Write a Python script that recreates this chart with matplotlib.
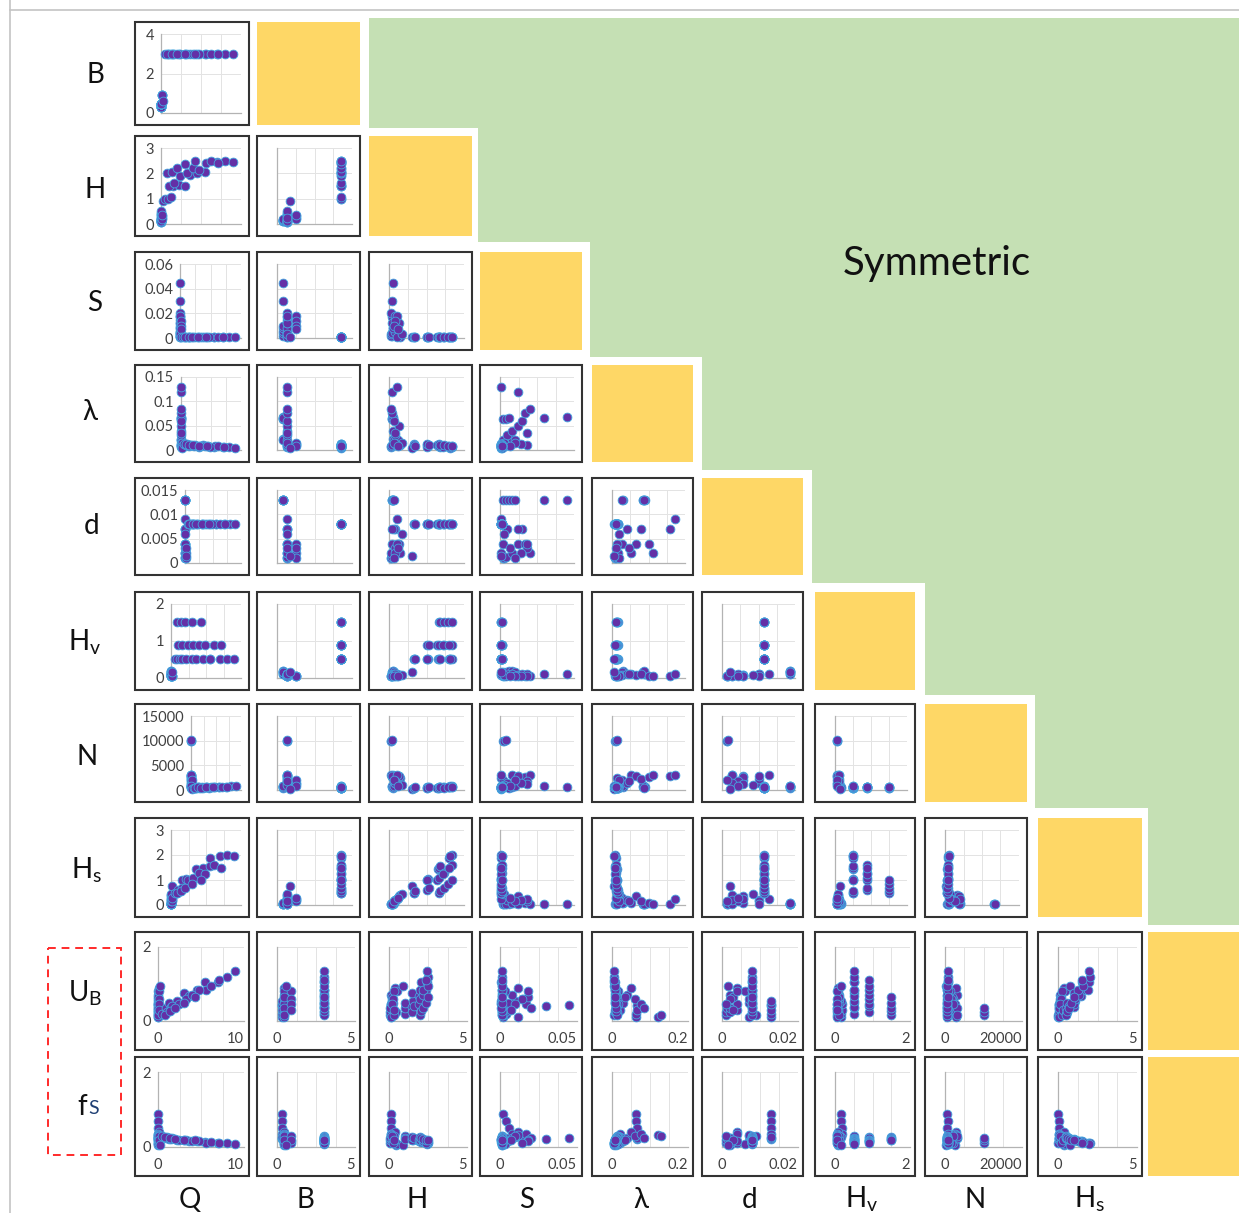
import matplotlib

matplotlib.use("Agg")
import matplotlib.pyplot as plt
from matplotlib.patches import Polygon, Rectangle

plt.rcParams["font.family"] = ["Lato", "DejaVu Sans"]
plt.rcParams["mathtext.fontset"] = "custom"
plt.rcParams["mathtext.rm"] = "Lato"
plt.rcParams["mathtext.it"] = "Lato:italic"

W, H_PX = 1239, 1213

# ── observations: lab runs first, then the wide-channel runs (B = 3) ──
Q = [0.02, 0.03, 0.01, 0.015, 0.02, 0.025, 0.03,
     0.01, 0.012, 0.015,
     0.05, 0.04, 0.03, 0.02, 0.06, 0.03, 0.02, 0.01, 0.015, 0.04, 0.05, 0.025,
     0.08, 0.10, 0.12, 0.09,
     0.20,
     0.5, 0.9, 1.3, 1.5, 2.2, 3.0, 3.6, 4.5, 5.5, 5.6, 7.0, 8.0, 9.0,
     1.0, 1.6, 2.4, 3.2, 4.0, 4.8, 6.2, 7.1,
     0.8, 1.4, 2.0, 3.0, 4.3]
B = [0.30, 0.30, 0.30, 0.30, 0.30, 0.30, 0.30,
     0.45, 0.45, 0.45,
     0.45, 0.45, 0.45, 0.45, 0.45, 0.45, 0.45, 0.45, 0.45, 0.45, 0.45, 0.45,
     0.90, 0.90, 0.90, 0.90,
     0.60,
     3.0, 3.0, 3.0, 3.0, 3.0, 3.0, 3.0, 3.0, 3.0, 3.0, 3.0, 3.0, 3.0,
     3.0, 3.0, 3.0, 3.0, 3.0, 3.0, 3.0, 3.0,
     3.0, 3.0, 3.0, 3.0, 3.0]
H = [0.12, 0.14, 0.10, 0.12, 0.14, 0.16, 0.18,
     0.06, 0.08, 0.10,
     0.45, 0.35, 0.25, 0.15, 0.40, 0.20, 0.12, 0.08, 0.10, 0.30, 0.50, 0.22,
     0.30, 0.25, 0.20, 0.35,
     0.90,
     1.0, 1.0, 1.05, 1.5, 1.55, 1.5, 1.95, 2.0, 2.05, 2.4, 2.45, 2.5, 2.45,
     1.5, 1.6, 1.9, 2.0, 2.2, 2.15, 2.5, 2.4,
     2.0, 2.05, 2.2, 2.35, 2.5]
S = [0.030, 0.045, 0.002, 0.004, 0.006, 0.008, 0.010,
     0.002, 0.003, 0.004,
     0.001, 0.002, 0.005, 0.008, 0.012, 0.015, 0.017, 0.020, 0.012, 0.001, 0.003, 0.018,
     0.018, 0.014, 0.010, 0.007,
     0.001,
     0.0010, 0.0012, 0.0008, 0.0010, 0.0009, 0.0011, 0.0010, 0.0012, 0.0009, 0.0010, 0.0011, 0.0010, 0.0012,
     0.0010, 0.0011, 0.0009, 0.0010, 0.0011, 0.0010, 0.0012, 0.0010,
     0.0010, 0.0011, 0.0009, 0.0010, 0.0011]
lam = [0.066, 0.067, 0.064, 0.064, 0.065, 0.022, 0.020,
       0.006, 0.008, 0.010,
       0.010, 0.020, 0.030, 0.040, 0.050, 0.060, 0.075, 0.085, 0.120, 0.130, 0.015, 0.035,
       0.010, 0.012, 0.015, 0.008,
       0.005,
       0.012, 0.010, 0.008, 0.011, 0.009, 0.007, 0.010, 0.008, 0.006, 0.009, 0.007, 0.006, 0.005,
       0.012, 0.010, 0.010, 0.008, 0.009, 0.007, 0.008, 0.006,
       0.013, 0.011, 0.010, 0.009, 0.008]
d = [0.013, 0.013, 0.013, 0.013, 0.013, 0.013, 0.013,
     0.001, 0.001, 0.0012,
     0.002, 0.004, 0.007, 0.002, 0.004, 0.007, 0.004, 0.002, 0.007, 0.009, 0.006, 0.003,
     0.004, 0.002, 0.001, 0.003,
     0.0015,
     0.008, 0.008, 0.008, 0.008, 0.008, 0.008, 0.008, 0.008, 0.008, 0.008, 0.008, 0.008, 0.008,
     0.008, 0.008, 0.008, 0.008, 0.008, 0.008, 0.008, 0.008,
     0.008, 0.008, 0.008, 0.008, 0.008]
Hv = [0.12, 0.12, 0.15, 0.15, 0.18, 0.18, 0.15,
      0.05, 0.05, 0.05,
      0.08, 0.08, 0.10, 0.10, 0.08, 0.10, 0.06, 0.05, 0.05, 0.10, 0.08, 0.10,
      0.05, 0.05, 0.05, 0.06,
      0.15,
      0.5, 0.5, 0.5, 0.5, 0.5, 0.5, 0.5, 0.5, 0.5, 0.5, 0.5, 0.5, 0.5,
      0.9, 0.9, 0.9, 0.9, 0.9, 0.9, 0.9, 0.9,
      1.5, 1.5, 1.5, 1.5, 1.5]
N = [800, 700, 600, 900, 500, 700, 800,
     10000, 10000, 10200,
     2500, 2000, 1500, 3000, 2800, 2200, 2600, 3000, 2800, 3000, 1000, 1800,
     1200, 1500, 2000, 800,
     300,
     400, 500, 600, 450, 550, 650, 500, 600, 700, 550, 650, 750, 850,
     450, 550, 500, 600, 550, 650, 600, 700,
     450, 550, 500, 600, 650]
Hs = [0.04, 0.05, 0.03, 0.05, 0.06, 0.08, 0.10,
      0.03, 0.04, 0.05,
      0.40, 0.30, 0.20, 0.10, 0.35, 0.15, 0.08, 0.05, 0.05, 0.25, 0.45, 0.18,
      0.25, 0.20, 0.15, 0.30,
      0.75,
      0.5, 0.5, 0.55, 1.0, 1.05, 1.0, 1.45, 1.5, 1.55, 1.9, 1.95, 2.0, 1.95,
      0.6, 0.7, 1.0, 1.1, 1.3, 1.25, 1.6, 1.5,
      0.5, 0.55, 0.7, 0.85, 1.0]
UB = [0.40, 0.42, 0.10, 0.20, 0.30, 0.45, 0.55,
      0.15, 0.25, 0.35,
      0.25, 0.30, 0.50, 0.70, 0.90, 0.60, 0.45, 0.35, 0.12, 0.15, 0.80, 0.65,
      0.80, 0.60, 0.45, 0.30,
      0.95,
      0.20, 0.35, 0.50, 0.38, 0.55, 0.75, 0.68, 0.85, 1.05, 0.85, 1.05, 1.20, 1.35,
      0.25, 0.40, 0.45, 0.60, 0.70, 0.85, 0.95, 1.10,
      0.15, 0.27, 0.35, 0.48, 0.65]
fs = [0.22, 0.24, 0.88, 0.70, 0.52, 0.35, 0.28,
      0.12, 0.18, 0.24,
      0.05, 0.10, 0.15, 0.25, 0.40, 0.30, 0.35, 0.25, 0.33, 0.30, 0.08, 0.20,
      0.15, 0.10, 0.30, 0.20,
      0.05,
      0.30, 0.25, 0.22, 0.22, 0.20, 0.18, 0.16, 0.15, 0.14, 0.12, 0.11, 0.10, 0.09,
      0.28, 0.25, 0.20, 0.18, 0.16, 0.15, 0.13, 0.12,
      0.27, 0.25, 0.22, 0.20, 0.18]

data = {"Q": Q, "B": B, "H": H, "S": S, "lam": lam, "d": d, "Hv": Hv,
        "N": N, "Hs": Hs, "UB": UB, "fs": fs}

row_vars = ["B", "H", "S", "lam", "d", "Hv", "N", "Hs", "UB", "fs"]
col_vars = ["Q", "B", "H", "S", "lam", "d", "Hv", "N", "Hs"]
labels = {"Q": "Q", "B": "B", "H": "H", "S": "S", "lam": "λ", "d": "d",
          "Hv": r"H$_\mathrm{v}$", "N": "N", "Hs": r"H$_\mathrm{s}$",
          "UB": r"U$_\mathrm{B}$", "fs": "f"}

y_ticks = {"B": [0, 2, 4], "H": [0, 1, 2, 3], "S": [0, 0.02, 0.04, 0.06],
           "lam": [0, 0.05, 0.1, 0.15], "d": [0, 0.005, 0.01, 0.015],
           "Hv": [0, 1, 2], "N": [0, 5000, 10000, 15000], "Hs": [0, 1, 2, 3],
           "UB": [0, 2], "fs": [0, 2]}
x_upper = {"Q": 10, "B": 3.5, "H": 3, "S": 0.05, "lam": 0.15, "d": 0.014,
           "Hv": 2, "N": 15000, "Hs": 3}
x_bottom = {"Q": 10, "B": 5, "H": 5, "S": 0.05, "lam": 0.2, "d": 0.02,
            "Hv": 2, "N": 20000, "Hs": 5}

# panel boxes in pixels
cols_x = [(135, 249), (257, 360), (369, 472), (480, 582), (592, 693),
          (702, 803), (815, 915), (925, 1027), (1038, 1142)]
rows_y = [(22, 125), (136, 236), (252, 350), (365, 462), (478, 575),
          (592, 690), (704, 802), (818, 917), (932, 1050), (1057, 1176)]
q_left = [26, 26, 45, 46, 50, 36, 56, 36, 23, 23]

GREEN = "#c5e0b4"
YELLOW = "#fed766"
DOT = "#6430a6"
DOT_EDGE = "#43a6e0"
TICK = "#404040"

fig = plt.figure(figsize=(W / 100, H_PX / 100), dpi=100)
bg = fig.add_axes([0, 0, 1, 1])
bg.set_xlim(0, W)
bg.set_ylim(H_PX, 0)
bg.axis("off")


def px_axes(x0, y0, x1, y1):
    return fig.add_axes([x0 / W, 1 - y1 / H_PX, (x1 - x0) / W, (y1 - y0) / H_PX])


# page frame
bg.plot([10, 10], [0, H_PX], color="#c4c4c4", lw=1.2)
bg.plot([10, W], [10, 10], color="#c4c4c4", lw=1.2)

# upper triangle: one staircase block
stairs = [(369, 18), (W, 18), (W, 925), (1148, 925), (1148, 808), (1035, 808),
          (1035, 695), (925, 695), (925, 583), (812, 583), (812, 470),
          (702, 470), (702, 357), (590, 357), (590, 242), (478, 242),
          (478, 128), (369, 128)]
bg.add_patch(Polygon(stairs, closed=True, fc=GREEN, ec="none", zorder=0))
bg.text(937, 263, "Symmetric", fontsize=29, ha="center", va="center", color="#111111")

# diagonal blocks
for i in range(len(row_vars)):
    y0, y1 = rows_y[i]
    x0, x1 = cols_x[i + 1] if i < 8 else (1148, W + 5)
    bg.add_patch(Rectangle((x0, y0), x1 - x0, y1 - y0, fc=YELLOW, ec="none", zorder=1))

# row and column names
row_lab_xy = [(95, 75), (95, 190), (95, 303), (90, 412), (92, 526), (85, 642),
              (87, 757), (87, 870), (85, 993), (82, 1107)]
for rv, (tx, ty) in zip(row_vars, row_lab_xy):
    bg.text(tx, ty, labels[rv], fontsize=20, ha="center", va="center", color="#111111")
bg.text(88, 1114, "S", fontsize=14, ha="left", va="baseline", color="#1f3f73")

col_lab_x = [190, 305, 417, 527, 641, 750, 862, 975, 1090]
for cv, tx in zip(col_vars, col_lab_x):
    bg.text(tx, 1208, labels[cv], fontsize=20, ha="center", va="baseline", color="#111111")

bg.add_patch(Rectangle((48, 948), 73, 207, fill=False, ec="#ff2a2a", lw=1.4,
                       ls=(0, (4, 3)), zorder=3))

# scatter panels
for i, rv in enumerate(row_vars):
    bottom_row = i >= 8
    ncols = 9 if bottom_row else i + 1
    by0, by1 = rows_y[i]
    for j in range(ncols):
        cv = col_vars[j]
        bx0, bx1 = cols_x[j]
        bg.add_patch(Rectangle((bx0, by0), bx1 - bx0, by1 - by0, fc="white",
                               ec="#333333", lw=1.5, zorder=2))
        left = bx0 + (q_left[i] if j == 0 else 20)
        right = bx1 - (5 if bottom_row else 8)
        top = by0 + (15 if bottom_row else 12)
        bot = by1 - (29 if bottom_row else 12)
        ax = px_axes(left, top, right, bot)
        ax.patch.set_alpha(0)

        xmax = x_bottom[cv] if bottom_row else x_upper[cv]
        yt = y_ticks[rv]
        ax.set_xlim(0, xmax)
        ax.set_ylim(0, yt[-1])
        for k in range(1, 5):
            ax.axvline(xmax * k / 4, color="#e3e3e3", lw=0.7, zorder=0)
        for v in yt[1:]:
            ax.axhline(v, color="#e3e3e3", lw=0.7, zorder=0)

        ax.scatter(data[cv], data[rv], s=40, c=DOT, edgecolors=DOT_EDGE,
                   linewidths=0.6, clip_on=False, zorder=3)

        for side in ("top", "right"):
            ax.spines[side].set_visible(False)
        for side in ("left", "bottom"):
            ax.spines[side].set_color("#b3b3b3")
            ax.spines[side].set_linewidth(0.9)

        ax.tick_params(length=0, labelsize=10.5, colors=TICK, pad=5)
        if j == 0:
            ax.set_yticks(yt)
            ax.set_yticklabels([f"{v:g}" for v in yt])
        else:
            ax.set_yticks([])
        if bottom_row:
            ax.set_xticks([0, xmax])
            ax.set_xticklabels(["0", f"{xmax:g}"])
            ax.tick_params(axis="x", pad=8)
            ax.get_xticklabels()[-1].set_horizontalalignment("right")
        else:
            ax.set_xticks([])

fig.savefig("out.png", dpi=100)
